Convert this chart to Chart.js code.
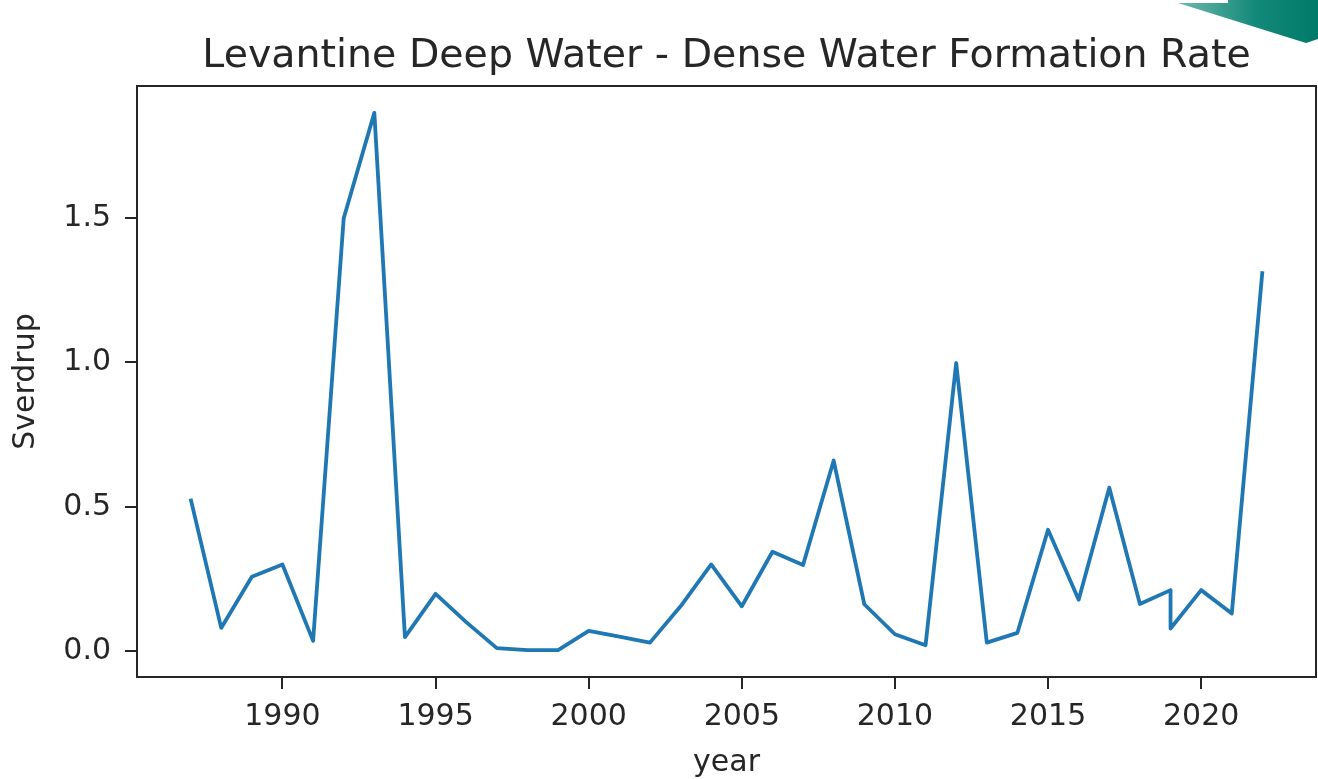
<!DOCTYPE html>
<html>
<head>
<meta charset="utf-8">
<script src="https://cdn.jsdelivr.net/npm/chart.js@4.4.0/dist/chart.umd.min.js"></script>
<style>
  html, body { margin: 0; padding: 0; background: #ffffff; }
  canvas { display: block; }
</style>
</head>
<body>
<canvas id="c" width="1318" height="779"></canvas>
<script>
const years = [1987, 1988, 1989, 1990, 1991, 1992, 1993, 1994, 1995, 1996, 1997, 1998, 1999, 2000, 2001, 2002, 2003, 2004, 2005, 2006, 2007, 2008, 2009, 2010, 2011, 2012, 2013, 2014, 2015, 2016, 2017, 2018, 2019, 2019, 2020, 2021, 2022];
const sverdrup = [0.528, 0.08, 0.257, 0.30, 0.035, 1.50, 1.865, 0.048, 0.198, 0.10, 0.01, 0.003, 0.003, 0.07, 0.05, 0.029, 0.155, 0.30, 0.155, 0.344, 0.298, 0.66, 0.162, 0.058, 0.02, 0.998, 0.029, 0.063, 0.42, 0.178, 0.566, 0.163, 0.211, 0.078, 0.211, 0.13, 1.316];
const xTickValues = [1990, 1995, 2000, 2005, 2010, 2015, 2020];
const yTickValues = [0.0, 0.5, 1.0, 1.5];
const chartTitle = 'Levantine Deep Water - Dense Water Formation Rate';
const xLabel = 'year';
const yLabel = 'Sverdrup';

const points = years.map((y, i) => ({ x: y, y: sverdrup[i] }));
const xMin = Math.min(...years), xMax = Math.max(...years);
const yMin = Math.min(...sverdrup), yMax = Math.max(...sverdrup);
const xPad = (xMax - xMin) * 0.05, yPad = (yMax - yMin) * 0.05;

const ink = '#262626';
const FONT = 'DejaVu Sans';

const framePlugin = {
  id: 'frame',
  afterDraw(chart) {
    const { ctx, chartArea: a } = chart;
    ctx.save();
    ctx.strokeStyle = ink;
    ctx.lineWidth = 2;
    ctx.strokeRect(a.left, a.top, a.right - a.left, a.bottom - a.top);
    // title centred over the plot area
    ctx.fillStyle = ink;
    ctx.font = '39.5px "' + FONT + '"';
    ctx.textAlign = 'center';
    ctx.textBaseline = 'middle';
    ctx.fillText(chartTitle, (a.left + a.right) / 2, 57);
    ctx.restore();
  }
};

const cornerPlugin = {
  id: 'corner',
  afterDraw(chart) {
    const ctx = chart.ctx;
    ctx.save();
    const g = ctx.createLinearGradient(1178, 0, 1318, 0);
    g.addColorStop(0, '#6fb9ab');
    g.addColorStop(0.55, '#13897a');
    g.addColorStop(1, '#007a69');
    ctx.fillStyle = g;
    ctx.beginPath();
    ctx.moveTo(1178, 3);
    ctx.lineTo(1228, 3);
    ctx.lineTo(1228, 0);
    ctx.lineTo(1318, 0);
    ctx.lineTo(1318, 39);
    ctx.lineTo(1306, 43);
    ctx.closePath();
    ctx.fill();
    ctx.restore();
  }
};

new Chart(document.getElementById('c'), {
  type: 'scatter',
  data: {
    datasets: [{
      data: points,
      showLine: true,
      borderColor: '#1f77b4',
      borderWidth: 3.8,
      borderJoinStyle: 'round',
      borderCapStyle: 'butt',
      pointRadius: 0,
      pointHoverRadius: 0,
      tension: 0,
      fill: false
    }]
  },
  options: {
    responsive: false,
    animation: false,
    devicePixelRatio: 1,
    layout: { padding: { top: 86, right: 2, bottom: 0, left: 0 } },
    plugins: {
      legend: { display: false },
      tooltip: { enabled: false },
      title: { display: false }
    },
    scales: {
      x: {
        type: 'linear',
        min: xMin - xPad,
        max: xMax + xPad,
        afterFit(s) { s.height = 102; },
        afterBuildTicks(s) { s.ticks = xTickValues.map(v => ({ value: v })); },
        ticks: {
          color: ink,
          font: { family: FONT, size: 30 },
          padding: 10,
          maxRotation: 0,
          autoSkip: false,
          callback: v => String(v)
        },
        grid: { display: true, drawOnChartArea: false, drawTicks: true, tickLength: 12, color: ink, lineWidth: 2 },
        border: { display: true, color: ink, width: 2 },
        title: {
          display: true,
          text: xLabel,
          color: ink,
          font: { family: FONT, size: 30, lineHeight: 1.2 },
          padding: { top: 0, bottom: -2 }
        }
      },
      y: {
        type: 'linear',
        min: yMin - yPad,
        max: yMax + yPad,
        afterFit(s) { s.width = 137; },
        afterBuildTicks(s) { s.ticks = yTickValues.map(v => ({ value: v })); },
        ticks: {
          color: ink,
          font: { family: FONT, size: 30 },
          padding: 14,
          autoSkip: false,
          callback: v => Number(v).toFixed(1)
        },
        grid: { display: true, drawOnChartArea: false, drawTicks: true, tickLength: 12, color: ink, lineWidth: 2 },
        border: { display: true, color: ink, width: 2 },
        title: {
          display: true,
          text: yLabel,
          color: ink,
          font: { family: FONT, size: 30, lineHeight: 1.2 },
          padding: { top: 8, bottom: 0 }
        }
      }
    }
  },
  plugins: [framePlugin, cornerPlugin]
});
</script>
</body>
</html>
